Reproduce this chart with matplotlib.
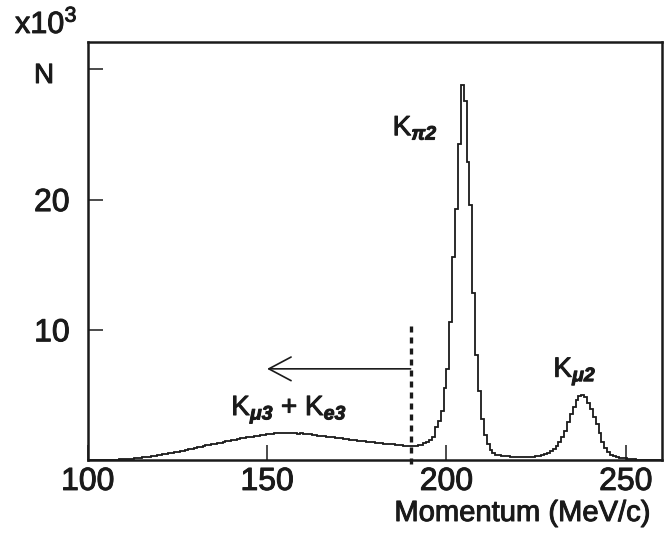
import numpy as np
import matplotlib
matplotlib.use("Agg")
import matplotlib.pyplot as plt
import matplotlib.patheffects as pe

plt.rcParams['font.family'] = ['Liberation Sans', 'DejaVu Sans']
plt.rcParams['mathtext.fontset'] = 'custom'
plt.rcParams['mathtext.rm'] = 'Liberation Sans'
plt.rcParams['mathtext.it'] = 'Liberation Sans:italic'
plt.rcParams['mathtext.bf'] = 'Liberation Sans:bold:italic'

# Histogram binning (MeV/c)
p_min, p_max, n_bins = 100.0, 260.0, 200

# Counts (x10^3) per bin
counts_ke3 = [
    0, 0, 0, 0, 0, 0.005, 0.01, 0.01, 0.015, 0.02,
    0.03, 0.04, 0.05, 0.06, 0.08, 0.10, 0.12, 0.15, 0.17, 0.20,
    0.23, 0.26, 0.29, 0.32, 0.35, 0.40, 0.43, 0.47, 0.52, 0.55,
    0.60, 0.63, 0.69, 0.72, 0.80, 0.83, 0.88, 0.93, 0.97, 1.02,
    1.08, 1.12, 1.15, 1.21, 1.25, 1.30, 1.33, 1.40, 1.43, 1.47,
    1.52, 1.57, 1.60, 1.66, 1.68, 1.74, 1.77, 1.80, 1.86, 1.88,
    1.93, 1.95, 1.98, 2.02, 2.00, 2.05, 2.07, 2.04, 2.10, 2.08,
    2.06, 2.09, 2.05, 2.03, 2.04, 2.00, 1.98, 1.96, 1.93, 1.92,
    1.88, 1.85, 1.84, 1.79, 1.77, 1.74, 1.72, 1.68, 1.66, 1.62,
    1.61, 1.57, 1.55, 1.52, 1.49, 1.46, 1.44, 1.40, 1.38, 1.35,
    1.32, 1.30, 1.28, 1.26, 1.25, 1.22, 1.20, 1.18, 1.16, 1.14,
    1.10, 1.08, 1.10, 1.06, 1.08, 1.12, 1.18, 1.30, 1.42, 1.55,
]
counts_kpi2 = [
    1.79, 2.55, 3.0, 3.76, 5.5, 7.0, 10.6, 15.6, 19.3, 24.3,
    28.8, 27.6, 22.9, 19.6, 12.8, 8.1, 5.3, 3.15, 1.92, 1.2,
    0.77,
]
counts_kmu2 = [
    0.52, 0.42, 0.36, 0.32, 0.29, 0.27, 0.25, 0.24, 0.23, 0.22,
    0.22, 0.22, 0.23, 0.24, 0.26, 0.28, 0.31, 0.37, 0.44, 0.53,
    0.66, 0.82, 1.06, 1.35, 1.75, 2.25, 2.9, 3.5, 4.1, 4.6,
    4.95, 5.0, 4.8, 4.4, 3.9, 3.3, 2.75, 2.07, 1.4, 0.9,
    0.58, 0.38, 0.28, 0.23, 0.19, 0.16, 0.12, 0.09, 0.06, 0.04,
    0.02, 0.01, 0, 0, 0, 0, 0, 0, 0,
]

x_ticks = [100, 150, 200, 250]
x_tick_labels = ['100', '150', '200', '250']
y_ticks = [10, 20, 30]
y_tick_labels = ['10', '20', '']

cut_momentum = 190.0
cut_height = 10.4
arrow_tip = 150.0
arrow_y = 7.0

counts = np.array(counts_ke3 + counts_kpi2 + counts_kmu2)
edges = np.linspace(p_min, p_max, n_bins + 1)

W, H = 672, 535
fig = plt.figure(figsize=(W / 100, H / 100), dpi=100)
ax = fig.add_axes([87.7 / W, (H - 460) / H, (661.7 - 87.7) / W, (460 - 42) / H])

ink = '#1a1a1a'
heavy = [pe.withStroke(linewidth=0.7, foreground=ink)]

ax.stairs(counts, edges, color=ink, linewidth=1.3, baseline=None)

ax.set_xlim(p_min, p_max)
ax.set_ylim(0, 32.1)

ax.set_xticks(x_ticks)
ax.set_xticklabels(x_tick_labels)
ax.set_yticks(y_ticks)
ax.set_yticklabels(y_tick_labels)
ax.tick_params(axis='both', direction='in', length=11, width=1.1, color=ink,
               labelsize=23, top=False, right=False)
ax.tick_params(axis='x', pad=5)
ax.tick_params(axis='y', pad=13)
for lab in ax.get_xticklabels() + ax.get_yticklabels():
    lab.set_path_effects(heavy)
    lab.set_color(ink)
for s in ax.spines.values():
    s.set_linewidth(1.8)
    s.set_color(ink)

# cut line and arrow
ax.plot([cut_momentum, cut_momentum], [-0.3, cut_height], color=ink,
        linewidth=2.4, linestyle=(0, (1.8, 1.5)), clip_on=False)
ax.annotate('', xy=(arrow_tip, arrow_y), xytext=(cut_momentum, arrow_y),
            arrowprops=dict(arrowstyle='->,head_length=1.6,head_width=0.85',
                            lw=1.2, color=ink, shrinkA=0, shrinkB=0,
                            mutation_scale=10))

# labels
ax.text(185.0, 24.94, r'K$_{\mathbf{π2}}$', fontsize=20, color=ink,
        ha='left', va='baseline', path_effects=heavy)
ax.text(140.0, 3.45, r'K$_{\mathbf{μ3}}$ + K$_{\mathbf{e3}}$', fontsize=20,
        color=ink, ha='left', va='baseline', path_effects=heavy)
ax.text(229.8, 6.39, r'K$_{\mathbf{μ2}}$', fontsize=20, color=ink,
        ha='left', va='baseline', path_effects=heavy)

fig.text(44 / W, (H - 83) / H, 'N', fontsize=20, color=ink, ha='center',
         va='baseline', path_effects=heavy)
fig.text(15 / W, (H - 33) / H, 'x10$^{\\mathregular{3}}$', fontsize=22, color=ink,
         ha='left', va='baseline', path_effects=heavy)
fig.text(650 / W, (H - 521) / H, 'Momentum (MeV/c)', fontsize=21, color=ink,
         ha='right', va='baseline', path_effects=heavy)

fig.savefig('out.png', dpi=100)
